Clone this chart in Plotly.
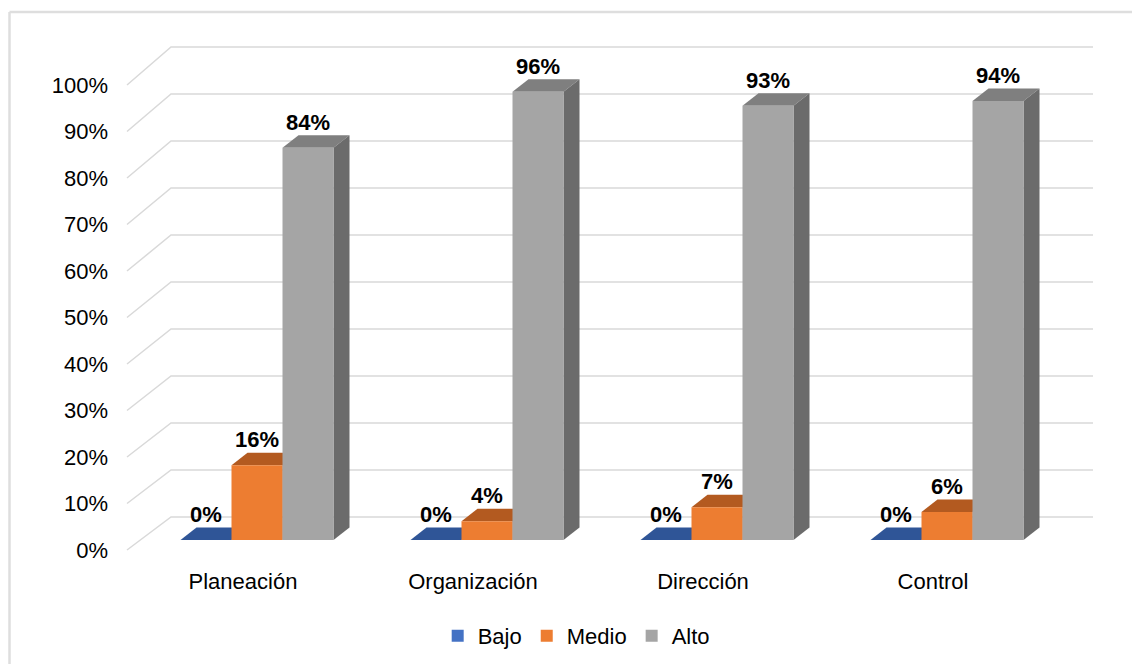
import plotly.graph_objects as go

# ---------------- data ----------------
categories = ["Planeación", "Organización", "Dirección", "Control"]
series_names = ["Bajo", "Medio", "Alto"]
bajo = [0, 0, 0, 0]
medio = [16, 4, 7, 6]
alto = [84, 96, 93, 94]
y_ticks = [0, 10, 20, 30, 40, 50, 60, 70, 80, 90, 100]

series_values = [bajo, medio, alto]
front_colors = ["#4472C4", "#ED7D31", "#A5A5A5"]
top_colors = ["#2F5597", "#B35A20", "#7F7F7F"]
side_colors = ["#2A4A82", "#9E4E1B", "#6B6B6B"]

# ---------------- geometry (pixels of the 1132x664 page) ----------------
W, H = 1132, 664
CAT_PX = 230.0          # distance between categories
CAT0_PX = 257.0         # centre of first group (bar plane)
BASE_PX = 540.0         # 0 % on bar front plane
SCALE_PX = 467.0        # pixels per 100 % on bar front plane
BAR_PX = 51.0           # bar width
DEPTH_DX, DEPTH_DY = 16.0, 12.5   # bar depth offset (right, up)
FRONT_X, FRONT_Y0, FRONT_SCALE = 127.0, 550.0, 465.0   # front floor plane (labels)
BACK_X, BACK_Y0, BACK_SCALE = 171.0, 517.0, 470.0      # back wall
WALL_RIGHT = 1093.0
LABEL_SHIFT_PX = 14.0   # category labels sit on front plane

FONT = "Liberation Sans, Arial, sans-serif"


def px2x(px):
    return (px - CAT0_PX) / CAT_PX


def px2y(py):
    return (BASE_PX - py) / SCALE_PX


bw = BAR_PX / CAT_PX
ddx = DEPTH_DX / CAT_PX
ddy = DEPTH_DY / SCALE_PX

fig = go.Figure()
shapes = []

# outer border (left + top)
shapes.append(dict(type="line", xref="paper", yref="paper",
                   x0=9.5 / W, x1=1.05, y0=1 - 12 / H, y1=1 - 12 / H,
                   line=dict(color="#DEDEDE", width=2.5), layer="below"))
shapes.append(dict(type="line", xref="paper", yref="paper",
                   x0=9.5 / W, x1=9.5 / W, y0=-0.05, y1=1 - 12 / H,
                   line=dict(color="#DEDEDE", width=2.5), layer="below"))

# 3D gridlines: front slanted segment + back wall horizontal
for t in y_ticks:
    v = t / 100
    p1 = (px2x(FRONT_X), px2y(FRONT_Y0 - FRONT_SCALE * v))
    p2 = (px2x(BACK_X), px2y(BACK_Y0 - BACK_SCALE * v))
    p3 = (px2x(WALL_RIGHT), px2y(BACK_Y0 - BACK_SCALE * v))
    shapes.append(dict(type="path", xref="x", yref="y", layer="below",
                       path=f"M{p1[0]},{p1[1]} L{p2[0]},{p2[1]} L{p3[0]},{p3[1]}",
                       line=dict(color="#D9D9D9", width=1.5)))

# bar top and side faces (drawn below the bar fronts)
for k, vals in enumerate(series_values):
    for i, val in enumerate(vals):
        v = val / 100
        xl = i + (k - 1) * bw - bw / 2
        xr = xl + bw
        top = (f"M{xl},{v} L{xr},{v} L{xr + ddx},{v + ddy} "
               f"L{xl + ddx},{v + ddy} Z")
        shapes.append(dict(type="path", xref="x", yref="y", layer="below",
                           path=top, fillcolor=top_colors[k],
                           line=dict(width=0)))
        if v > 0:
            side = (f"M{xr},0 L{xr + ddx},{ddy} L{xr + ddx},{v + ddy} "
                    f"L{xr},{v} Z")
            shapes.append(dict(type="path", xref="x", yref="y", layer="below",
                               path=side, fillcolor=side_colors[k],
                               line=dict(width=0)))

# bar front faces
for k, vals in enumerate(series_values):
    fig.add_trace(go.Bar(
        x=list(range(len(categories))), y=[v / 100 for v in vals],
        name=series_names[k], marker=dict(color=front_colors[k], line=dict(width=0)),
        hoverinfo="skip"))

# data labels
for k, vals in enumerate(series_values):
    fig.add_trace(go.Scatter(
        x=[i + (k - 1) * bw for i in range(len(categories))],
        y=[v / 100 + ddy for v in vals],
        text=[f"{v}%" for v in vals], mode="text", textposition="top center",
        textfont=dict(family=FONT, size=22, color="#000000", weight="bold"),
        showlegend=False, hoverinfo="skip", cliponaxis=False))

# dummy trace carrying the label axes
fig.add_trace(go.Scatter(x=[0], y=[0], xaxis="x2", yaxis="y2", mode="markers",
                         marker=dict(opacity=0), showlegend=False, hoverinfo="skip"))

x_range = [px2x(0), px2x(W)]
y_range = [px2y(H), px2y(0)]

fig.update_layout(
    width=W, height=H, autosize=False,
    margin=dict(l=0, r=0, t=0, b=0),
    paper_bgcolor="white", plot_bgcolor="white",
    barmode="group", bargap=1 - 3 * bw, bargroupgap=0,
    font=dict(family=FONT, size=22, color="#000000"),
    shapes=shapes,
    xaxis=dict(range=x_range, showgrid=False, zeroline=False, showticklabels=False,
               showline=False, fixedrange=True),
    yaxis=dict(range=y_range, showgrid=False, zeroline=False, showticklabels=False,
               showline=False, fixedrange=True),
    xaxis2=dict(overlaying="x", anchor="free", position=(H - 566) / H, side="bottom",
                range=[(0 - (CAT0_PX - LABEL_SHIFT_PX)) / CAT_PX,
                       (W - (CAT0_PX - LABEL_SHIFT_PX)) / CAT_PX],
                tickvals=list(range(len(categories))), ticktext=categories,
                showgrid=False, zeroline=False, showline=False, ticks="",
                tickfont=dict(family=FONT, size=22, color="#000000"), fixedrange=True),
    yaxis2=dict(overlaying="y", anchor="free", position=108 / W, side="left",
                range=[(FRONT_Y0 - H) / FRONT_SCALE, FRONT_Y0 / FRONT_SCALE],
                tickvals=[t / 100 for t in y_ticks], ticktext=[f"{t}%" for t in y_ticks],
                showgrid=False, zeroline=False, showline=False, ticks="",
                tickfont=dict(family=FONT, size=22, color="#000000"), fixedrange=True),
    legend=dict(orientation="h", x=0.509, xanchor="center", y=(H - 636) / H,
                yanchor="middle", font=dict(family=FONT, size=22, color="#000000"),
                bgcolor="rgba(0,0,0,0)", traceorder="normal"),
    showlegend=True,
)

fig.write_html("out.html")
